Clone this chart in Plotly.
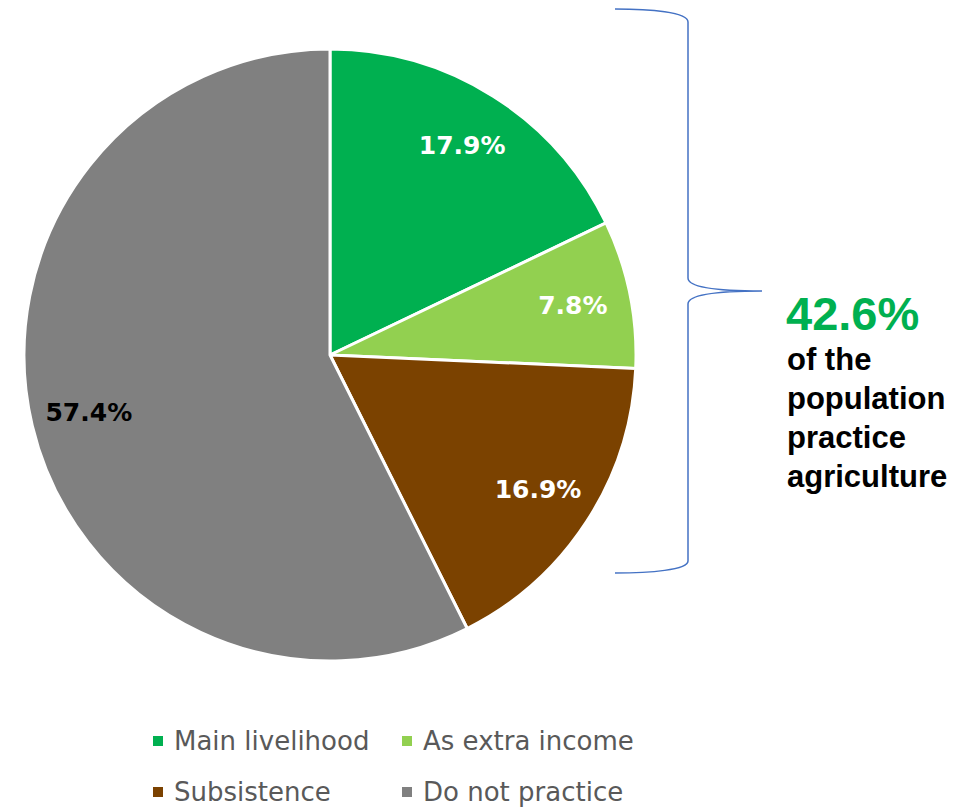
import plotly.graph_objects as go

# Share of the population by how they practice agriculture
categories = ["Main livelihood", "As extra income", "Subsistence", "Do not practice"]
shares = [17.9, 7.8, 16.9, 57.4]
colors = ["#00B050", "#92D050", "#7B4200", "#808080"]
label_colors = ["#FFFFFF", "#FFFFFF", "#FFFFFF", "#000000"]

# Categories that count as practising agriculture
practising = ["Main livelihood", "As extra income", "Subsistence"]
practising_total = sum(v for c, v in zip(categories, shares) if c in practising)

W, H = 977, 808


def px(x):
    return x / W


def py(y):
    return 1 - y / H


# Pie placement (centre and radius in pixels)
cx, cy, r = 330, 355, 306
domain = dict(x=[px(cx - r), px(cx + r)], y=[py(cy + r), py(cy - r)])

fig = go.Figure()

# Filled slices
fig.add_trace(go.Pie(
    labels=categories,
    values=shares,
    sort=False,
    direction="clockwise",
    rotation=0,
    domain=domain,
    marker=dict(colors=colors, line=dict(color="#FFFFFF", width=3)),
    textinfo="none",
    showlegend=False,
    hoverinfo="label+value",
))

# Transparent ring carrying the value labels near the outer edge
fig.add_trace(go.Pie(
    labels=categories,
    values=shares,
    sort=False,
    direction="clockwise",
    rotation=0,
    domain=domain,
    hole=0.62,
    marker=dict(colors=["rgba(0,0,0,0)"] * len(categories), line=dict(width=0)),
    texttemplate="<b>%{value:.1f}%</b>",
    textposition="inside",
    insidetextorientation="horizontal",
    insidetextfont=dict(family="DejaVu Sans", size=25, color=label_colors),
    showlegend=False,
    hoverinfo="skip",
))

shapes = []
annotations = []

# Curly brace grouping the practising slices
brace = (
    f"M {px(615)},{py(9)} "
    f"C {px(650)},{py(9)} {px(688)},{py(12)} {px(688)},{py(22)} "
    f"L {px(688)},{py(278)} "
    f"C {px(688)},{py(288)} {px(720)},{py(291)} {px(762)},{py(291)} "
    f"C {px(720)},{py(291)} {px(688)},{py(294)} {px(688)},{py(304)} "
    f"L {px(688)},{py(561)} "
    f"C {px(688)},{py(570)} {px(650)},{py(573)} {px(615)},{py(573)}"
)
shapes.append(dict(type="path", xref="paper", yref="paper", path=brace,
                   line=dict(color="#4472C4", width=1.5)))

annotations.append(dict(
    x=px(784), y=py(313), xref="paper", yref="paper",
    xanchor="left", yanchor="middle", showarrow=False,
    text=f"<b>{practising_total:.1f}%</b>",
    font=dict(family="Liberation Sans", size=47, color="#00B050"),
))
caption_lines = ["of the", "population", "practice", "agriculture"]
for i, line in enumerate(caption_lines):
    annotations.append(dict(
        x=px(785), y=py(360 + i * 38.7), xref="paper", yref="paper",
        xanchor="left", yanchor="middle", showarrow=False,
        text=f"<b>{line}</b>",
        font=dict(family="Liberation Sans", size=31, color="#000000"),
    ))

# Two-column legend below the pie
col_x = [153, 402]
row_y = [741, 792]
for i, (name, col) in enumerate(zip(categories, colors)):
    x0 = col_x[i % 2]
    yc = row_y[i // 2]
    shapes.append(dict(type="rect", xref="paper", yref="paper",
                       x0=px(x0), x1=px(x0 + 10), y0=py(yc + 5), y1=py(yc - 5),
                       fillcolor=col, line=dict(width=0)))
    annotations.append(dict(
        x=px(x0 + 19), y=py(yc), xref="paper", yref="paper",
        xanchor="left", yanchor="middle", showarrow=False,
        text=name,
        font=dict(family="DejaVu Sans", size=26, color="#595959"),
    ))

fig.update_layout(
    width=W, height=H,
    margin=dict(l=0, r=0, t=0, b=0),
    paper_bgcolor="#FFFFFF",
    plot_bgcolor="#FFFFFF",
    shapes=shapes,
    annotations=annotations,
    showlegend=False,
)

fig.write_html("out.html")
